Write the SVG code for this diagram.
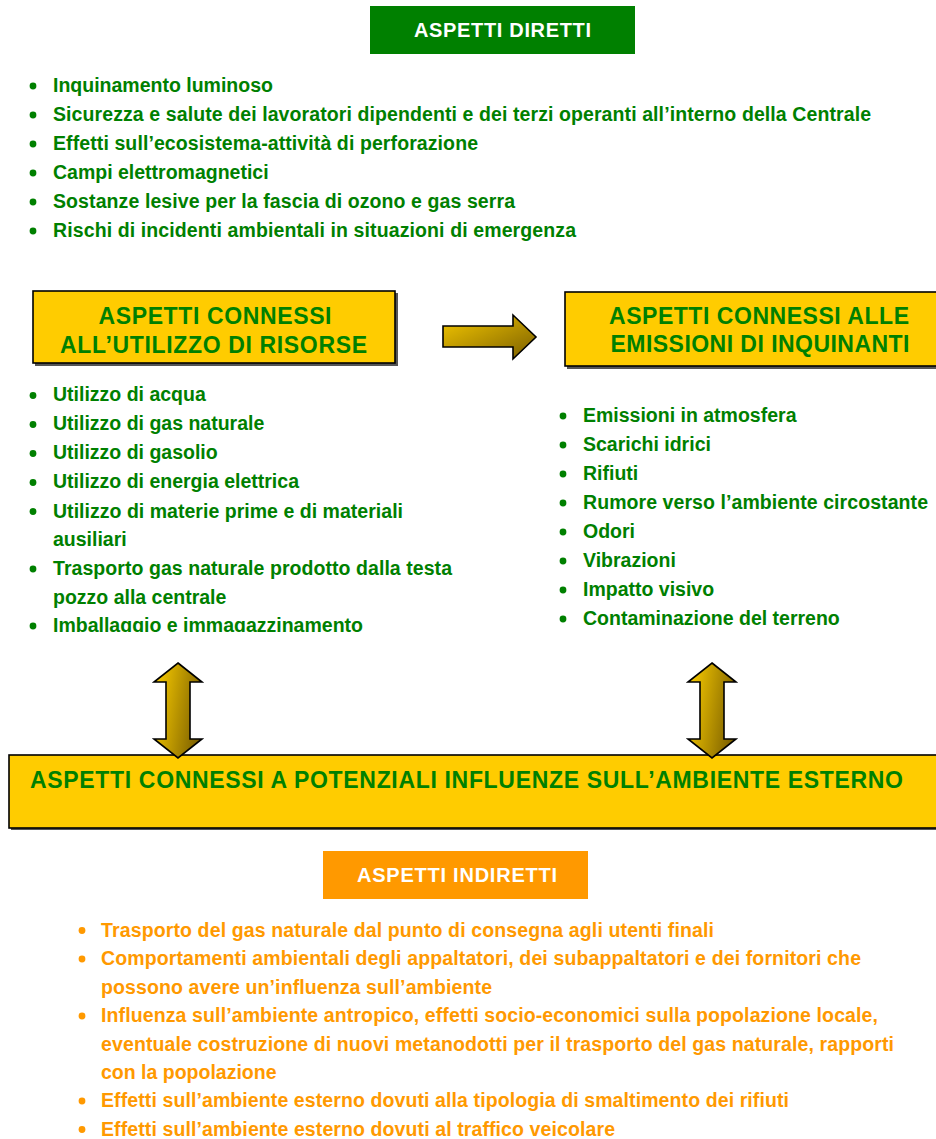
<svg xmlns="http://www.w3.org/2000/svg" width="936" height="1139" viewBox="0 0 936 1139">
<style>
text{font-family:"Liberation Sans",Arial,sans-serif;font-weight:bold}
.g{fill:#008000;font-size:19.5px}
.o{fill:#FF9900;font-size:19.5px}
.hd{fill:#ffffff;font-size:20px}
.bt{fill:#008000;font-size:23px}
.box{fill:#FFCC00;stroke:#000;stroke-width:1.6}
.sh{fill:#555}
.bg{fill:#008000}
.bo{fill:#FF9900}
.arr{stroke:#000;stroke-width:1.6;stroke-linejoin:miter}
</style>
<defs>
<linearGradient id="gh" x1="0" y1="0" x2="1" y2="1">
<stop offset="0" stop-color="#F5C800"/>
<stop offset="1" stop-color="#7A5E00"/>
</linearGradient>
<linearGradient id="gv" x1="0" y1="0.35" x2="1" y2="0.65">
<stop offset="0" stop-color="#F5C800"/>
<stop offset="1" stop-color="#7A5E00"/>
</linearGradient>
<clipPath id="clipL"><rect x="0" y="370" width="480" height="262"/></clipPath>
</defs>
<rect width="936" height="1139" fill="#fff"/>

<g id="diretti-header">
<rect class="bg" x="370" y="6" width="265" height="48"/>
<text class="hd" x="502.5" y="37" text-anchor="middle" textLength="177">ASPETTI DIRETTI</text>
</g>

<g id="diretti-list">
<circle cx="33" cy="86" r="3.4" fill="#008000"/><text class="g" x="53" y="91.5">Inquinamento luminoso</text>
<circle cx="33" cy="115" r="3.4" fill="#008000"/><text class="g" x="53" y="120.5" textLength="818">Sicurezza e salute dei lavoratori dipendenti e dei terzi operanti all’interno della Centrale</text>
<circle cx="33" cy="144" r="3.4" fill="#008000"/><text class="g" x="53" y="149.5" textLength="425">Effetti sull’ecosistema-attività di perforazione</text>
<circle cx="33" cy="173" r="3.4" fill="#008000"/><text class="g" x="53" y="178.5">Campi elettromagnetici</text>
<circle cx="33" cy="202" r="3.4" fill="#008000"/><text class="g" x="53" y="207.5" textLength="462">Sostanze lesive per la fascia di ozono e gas serra</text>
<circle cx="33" cy="231" r="3.4" fill="#008000"/><text class="g" x="53" y="236.5" textLength="523">Rischi di incidenti ambientali in situazioni di emergenza</text>
</g>

<g id="risorse-box">
<rect class="sh" x="35" y="293" width="363" height="73"/>
<rect class="box" x="33" y="291" width="362" height="72"/>
<text class="bt" x="215" y="323.5" text-anchor="middle" textLength="233">ASPETTI CONNESSI</text>
<text class="bt" x="213.5" y="352.5" text-anchor="middle" textLength="307">ALL’UTILIZZO DI RISORSE</text>
</g>

<g id="emissioni-box">
<rect class="sh" x="567" y="294" width="380" height="75"/>
<rect class="box" x="565" y="292" width="380" height="74"/>
<text class="bt" x="759" y="323.5" text-anchor="middle" textLength="300">ASPETTI CONNESSI ALLE</text>
<text class="bt" x="760" y="352" text-anchor="middle" textLength="299">EMISSIONI DI INQUINANTI</text>
</g>

<g id="risorse-list" clip-path="url(#clipL)">
<circle cx="33" cy="395.5" r="3.4" fill="#008000"/><text class="g" x="53" y="401">Utilizzo di acqua</text>
<circle cx="33" cy="424.5" r="3.4" fill="#008000"/><text class="g" x="53" y="430">Utilizzo di gas naturale</text>
<circle cx="33" cy="453.5" r="3.4" fill="#008000"/><text class="g" x="53" y="459">Utilizzo di gasolio</text>
<circle cx="33" cy="482.5" r="3.4" fill="#008000"/><text class="g" x="53" y="488">Utilizzo di energia elettrica</text>
<circle cx="33" cy="511.5" r="3.4" fill="#008000"/><text class="g" x="53" y="517.5" textLength="350">Utilizzo di materie prime e di materiali</text>
<text class="g" x="53" y="546">ausiliari</text>
<circle cx="33" cy="569" r="3.4" fill="#008000"/><text class="g" x="53" y="575" textLength="399">Trasporto gas naturale prodotto dalla testa</text>
<text class="g" x="53" y="603.5">pozzo alla centrale</text>
<circle cx="33" cy="626" r="3.4" fill="#008000"/><text class="g" x="53" y="632" textLength="310">Imballaggio e immagazzinamento</text>
</g>

<g id="emissioni-list">
<circle cx="563" cy="416" r="3.4" fill="#008000"/><text class="g" x="583" y="421.5">Emissioni in atmosfera</text>
<circle cx="563" cy="445" r="3.4" fill="#008000"/><text class="g" x="583" y="450.5">Scarichi idrici</text>
<circle cx="563" cy="474" r="3.4" fill="#008000"/><text class="g" x="583" y="479.5">Rifiuti</text>
<circle cx="563" cy="503" r="3.4" fill="#008000"/><text class="g" x="583" y="508.5" textLength="345">Rumore verso l’ambiente circostante</text>
<circle cx="563" cy="532" r="3.4" fill="#008000"/><text class="g" x="583" y="537.5">Odori</text>
<circle cx="563" cy="561" r="3.4" fill="#008000"/><text class="g" x="583" y="566.5">Vibrazioni</text>
<circle cx="563" cy="590" r="3.4" fill="#008000"/><text class="g" x="583" y="595.5">Impatto visivo</text>
<circle cx="563" cy="619" r="3.4" fill="#008000"/><text class="g" x="583" y="624.5">Contaminazione del terreno</text>
</g>

<g id="ambiente-box">
<rect class="sh" x="11" y="757" width="940" height="73"/>
<rect class="box" x="9" y="755" width="940" height="73"/>
<text class="bt" x="30" y="788" textLength="873">ASPETTI CONNESSI A POTENZIALI INFLUENZE SULL’AMBIENTE ESTERNO</text>
</g>

<g id="connectors">
<path class="arr" fill="url(#gh)" d="M443,326 L513,326 L513,315 L536,337 L513,359 L513,347 L443,347 Z"/>
<path class="arr" fill="url(#gv)" d="M178,663 L202,682 L190,682 L190,739 L202,739 L178,758 L154,739 L166,739 L166,682 L154,682 Z"/>
<path class="arr" fill="url(#gv)" d="M712,663 L736,682 L724,682 L724,739 L736,739 L712,758 L688,739 L700,739 L700,682 L688,682 Z"/>
</g>

<g id="indiretti-header">
<rect class="bo" x="323" y="851" width="265" height="48"/>
<text class="hd" x="457" y="881.5" text-anchor="middle" textLength="200">ASPETTI INDIRETTI</text>
</g>

<g id="indiretti-list">
<circle cx="82" cy="930.5" r="3.4" fill="#FF9900"/><text class="o" x="101" y="936.5" textLength="613">Trasporto del gas naturale dal punto di consegna agli utenti finali</text>
<circle cx="82" cy="959" r="3.4" fill="#FF9900"/><text class="o" x="101" y="965" textLength="760">Comportamenti ambientali degli appaltatori, dei subappaltatori e dei fornitori che</text>
<text class="o" x="101" y="993.5" textLength="391">possono avere un’influenza sull’ambiente</text>
<circle cx="82" cy="1016" r="3.4" fill="#FF9900"/><text class="o" x="101" y="1022" textLength="777">Influenza sull’ambiente antropico, effetti socio-economici sulla popolazione locale,</text>
<text class="o" x="101" y="1050.5" textLength="793">eventuale costruzione di nuovi metanodotti per il trasporto del gas naturale, rapporti</text>
<text class="o" x="101" y="1079">con la popolazione</text>
<circle cx="82" cy="1101" r="3.4" fill="#FF9900"/><text class="o" x="101" y="1107" textLength="688">Effetti sull’ambiente esterno dovuti alla tipologia di smaltimento dei rifiuti</text>
<circle cx="82" cy="1129.5" r="3.4" fill="#FF9900"/><text class="o" x="101" y="1135.5" textLength="514">Effetti sull’ambiente esterno dovuti al traffico veicolare</text>
</g>
</svg>
